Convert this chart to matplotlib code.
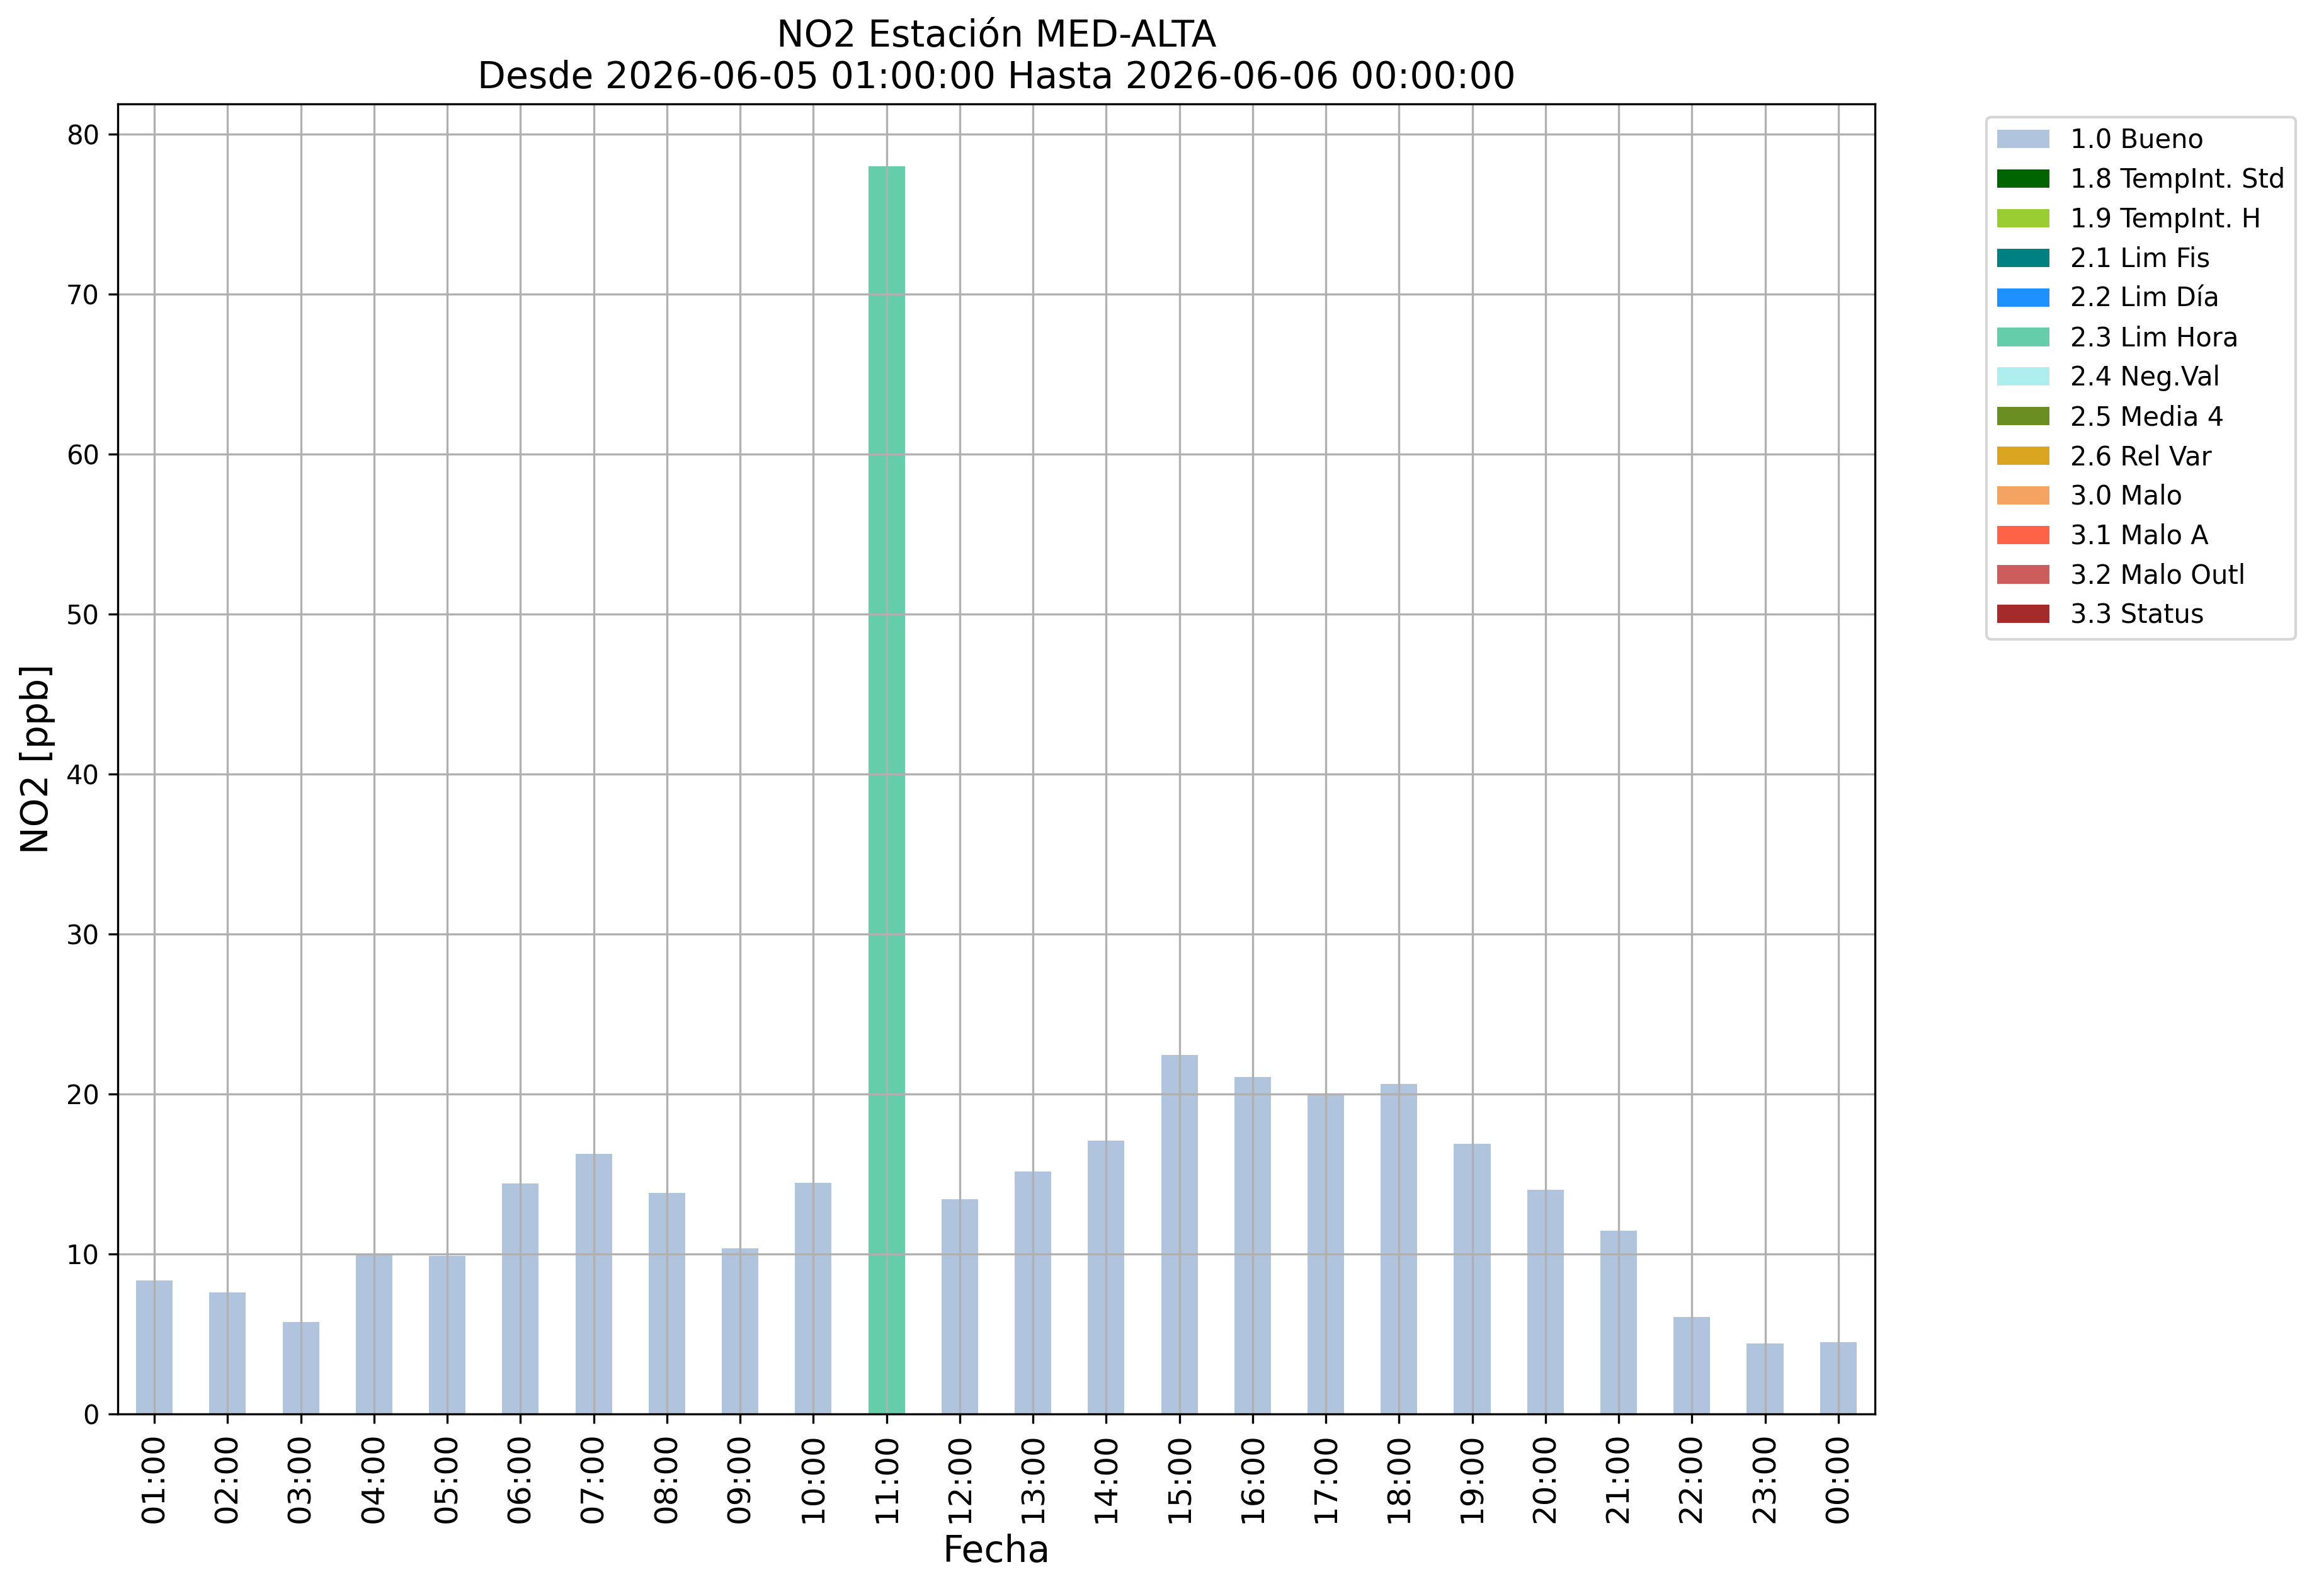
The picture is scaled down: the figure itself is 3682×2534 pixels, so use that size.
import matplotlib
matplotlib.use("Agg")
import matplotlib.pyplot as plt
import numpy as n

# hourly NO2 values and their validation flag
horas = ["01:00", "02:00", "03:00", "04:00", "05:00", "06:00", "07:00", "08:00",
         "09:00", "10:00", "11:00", "12:00", "13:00", "14:00", "15:00", "16:00",
         "17:00", "18:00", "19:00", "20:00", "21:00", "22:00", "23:00", "00:00"]
no2 = [8.36, 7.61, 5.76, 9.97, 9.90, 14.43, 16.26, 13.83, 10.35, 14.46, 78.0, 13.44,
       15.17, 17.11, 22.45, 21.05, 20.05, 20.63, 16.90, 14.03, 11.45, 6.06, 4.40, 4.49]
flags = [1.0] * 10 + [2.3] + [1.0] * 13

codigos = [1.0, 1.8, 1.9, 2.1, 2.2, 2.3, 2.4, 2.5, 2.6, 3.0, 3.1, 3.2, 3.3]
nombres = ["1.0 Bueno", "1.8 TempInt. Std", "1.9 TempInt. H", "2.1 Lim Fis",
           "2.2 Lim Día", "2.3 Lim Hora", "2.4 Neg.Val", "2.5 Media 4",
           "2.6 Rel Var", "3.0 Malo", "3.1 Malo A", "3.2 Malo Outl", "3.3 Status"]
colores = ["lightsteelblue", "darkgreen", "yellowgreen", "teal", "dodgerblue",
           "mediumaquamarine", "paleturquoise", "olivedrab", "goldenrod",
           "sandybrown", "tomato", "indianred", "brown"]

vals = n.array(no2)
fl = n.array(flags)
x = n.arange(len(horas))

fig = plt.figure(figsize=(3682/300.0, 2534/300.0), dpi=300)
ax = fig.add_axes([0.0508, 0.1140, 0.8085-0.0508, 0.9349-0.1140])

bottom = n.zeros(len(x))
for c, nom, col in zip(codigos, nombres, colores):
    h = n.where(n.isclose(fl, c), vals, 0.0)
    ax.bar(x, h, width=0.5, bottom=bottom, color=col, label=nom)
    bottom = bottom + h

ax.set_xlim(-0.5, len(x) - 0.5)
ax.set_ylim(0, vals.max() * 1.05)
ax.set_xticks(x)
ax.set_xticklabels(horas, rotation=90, fontsize=12)
ax.tick_params(axis="y", labelsize=10)
ax.grid(True)
ax.set_xlabel("Fecha", fontsize=14)
ax.set_ylabel("NO2 [ppb]", fontsize=14)
ax.set_title("NO2 Estación MED-ALTA\nDesde 2026-06-05 01:00:00 Hasta 2026-06-06 00:00:00",
             fontsize=14)
ax.legend(bbox_to_anchor=(1.056, 1), loc="upper left", fontsize=10)

fig.savefig("out.png", dpi=300)
